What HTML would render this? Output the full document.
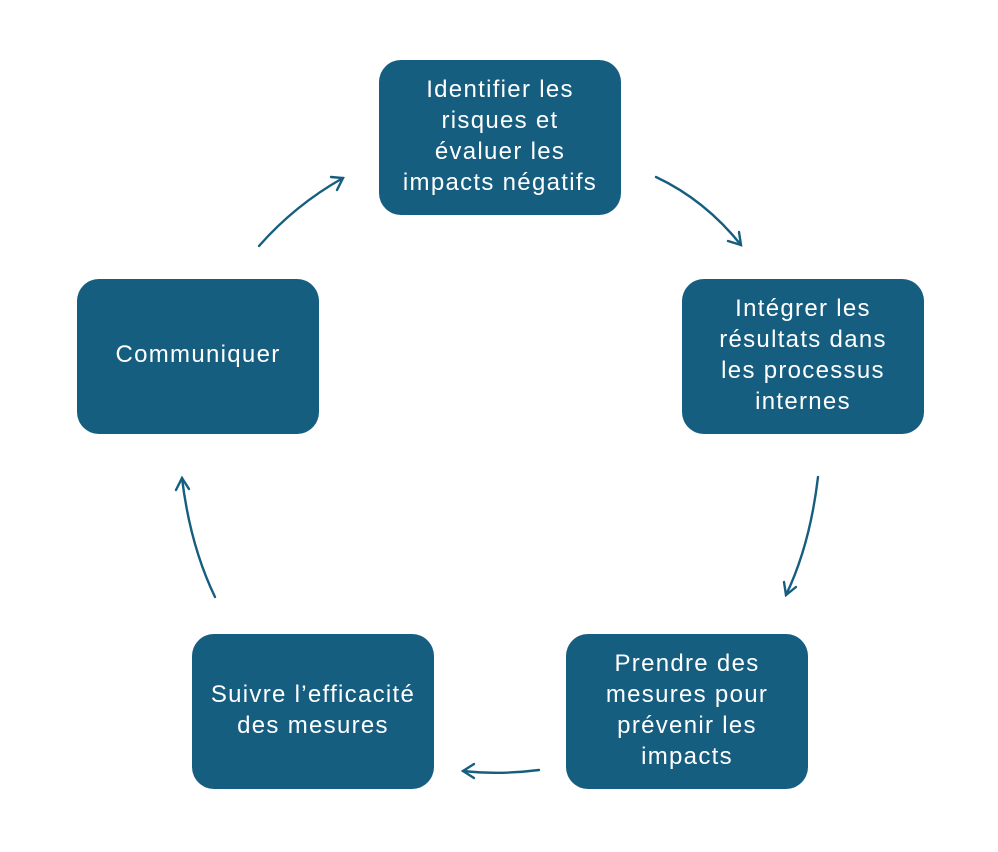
<!DOCTYPE html>
<html><head><meta charset="utf-8"><style>
body{margin:0;width:998px;height:852px;background:#fff;position:relative;overflow:hidden;font-family:"Liberation Sans",sans-serif}
.b{position:absolute;width:242px;height:155px;background:#165e80;border-radius:22px;color:#fff;font-size:24px;letter-spacing:1.3px;line-height:31px;display:flex;align-items:center;justify-content:center;text-align:center;padding-bottom:4px;box-sizing:border-box}
svg{position:absolute;left:0;top:0}
</style></head><body>
<svg width="998" height="852" fill="none" stroke="#165e80" stroke-width="2.4" stroke-linecap="round">
<path d="M656 177 Q705 200 741 245"/><path d="M728 241 L741 245 L739 232"/>
<path d="M818 477 Q810 545 786 595"/><path d="M784 582 L786 595 L796 587"/>
<path d="M539 770 Q500 775 463 771"/><path d="M474 764 L463 771 L474 778"/>
<path d="M215 597 Q190 545 182 478"/><path d="M176 490 L182 478 L189 489"/>
<path d="M259 246 Q295 205 343 178"/><path d="M331 177 L343 178 L337 190"/>
</svg>
<div class="b" style="left:379px;top:60px">Identifier les<br>risques et<br>évaluer les<br>impacts négatifs</div>
<div class="b" style="left:682px;top:279px">Intégrer les<br>résultats dans<br>les processus<br>internes</div>
<div class="b" style="left:566px;top:634px">Prendre des<br>mesures pour<br>prévenir les<br>impacts</div>
<div class="b" style="left:192px;top:634px">Suivre l’efficacité<br>des mesures</div>
<div class="b" style="left:77px;top:279px">Communiquer</div>
</body></html>
